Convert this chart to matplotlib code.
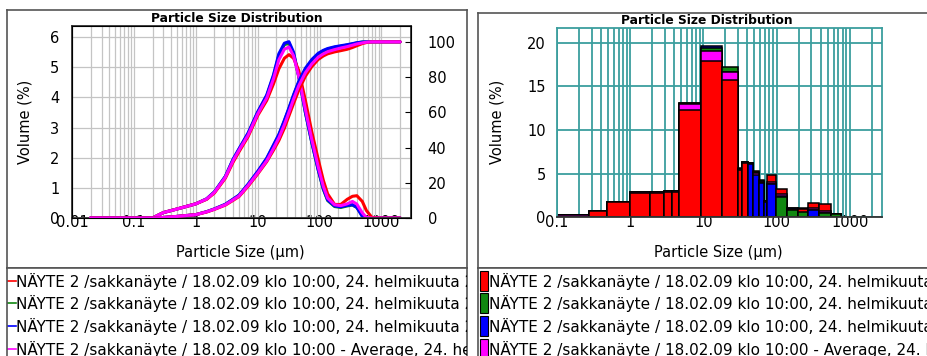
import matplotlib
matplotlib.use('Agg')
import matplotlib.pyplot as plt
from matplotlib.patches import Rectangle
from matplotlib.ticker import FixedLocator, FixedFormatter, NullFormatter

W, H = 927, 356

# particle sizes (um) for the continuous curves
sizes = [0.02, 0.1, 0.2, 0.25, 0.3, 0.5, 1, 1.5, 2, 3, 4, 5, 7, 10, 14, 18, 22, 27, 32,
         38, 46, 59, 75, 95, 115, 135, 175, 220, 280, 340, 400, 490, 570, 700, 1000, 2000]

# volume frequency (%) per run
freq_red = [0, 0, 0, 0.1, 0.18, 0.3, 0.47, 0.62, 0.83, 1.32, 1.85, 2.2, 2.7, 3.4, 3.9, 4.45,
            4.95, 5.3, 5.42, 5.3, 4.9, 3.9, 2.85, 1.95, 1.25, 0.8, 0.45, 0.45, 0.62, 0.72,
            0.74, 0.55, 0.25, 0.02, 0, 0]
freq_green = [0, 0, 0, 0.1, 0.18, 0.3, 0.47, 0.63, 0.86, 1.37, 1.93, 2.28, 2.8, 3.5, 4.05,
              4.7, 5.4, 5.75, 5.8, 5.45, 4.7, 3.5, 2.5, 1.6, 0.95, 0.58, 0.38, 0.35, 0.4,
              0.43, 0.35, 0.08, 0, 0, 0, 0]
freq_blue = [0, 0, 0, 0.1, 0.18, 0.3, 0.47, 0.64, 0.87, 1.38, 1.95, 2.3, 2.82, 3.52, 4.08,
             4.75, 5.45, 5.8, 5.85, 5.5, 4.7, 3.5, 2.5, 1.6, 0.97, 0.6, 0.4, 0.37, 0.42,
             0.44, 0.35, 0.05, 0, 0, 0, 0]
freq_avg = [0, 0, 0, 0.1, 0.18, 0.3, 0.47, 0.63, 0.85, 1.35, 1.9, 2.25, 2.75, 3.45, 3.98,
            4.62, 5.25, 5.6, 5.67, 5.38, 4.7, 3.6, 2.6, 1.7, 1.05, 0.66, 0.44, 0.41, 0.47,
            0.55, 0.46, 0.17, 0.02, 0, 0, 0]

# cumulative volume (%) per run
cum_red = [0, 0, 0, 0.1, 0.3, 0.9, 1.9, 3.4, 4.9, 7.3, 10.0, 12.2, 18.0, 25.0, 32.0, 38.5,
           44.0, 51.0, 58.0, 65.0, 72.5, 80.5, 86.0, 90.0, 92.0, 93.2, 94.3, 95.0, 95.8,
           96.8, 97.8, 99.0, 99.6, 100, 100, 100]
cum_green = [0, 0, 0, 0.1, 0.3, 0.9, 1.9, 3.6, 5.1, 7.7, 10.6, 12.9, 19.0, 26.0, 33.5, 41.0,
             47.0, 55.0, 62.0, 69.5, 77.0, 84.5, 89.5, 93.0, 94.8, 95.9, 96.9, 97.5, 98.2,
             98.8, 99.4, 99.9, 100, 100, 100, 100]
cum_blue = [0, 0, 0, 0.1, 0.3, 0.9, 1.9, 3.6, 5.2, 7.8, 10.7, 13.0, 19.2, 26.5, 34.0, 41.5,
            47.5, 55.5, 62.5, 70.0, 77.5, 85.0, 90.0, 93.5, 95.2, 96.2, 97.2, 97.8, 98.4,
            99.0, 99.5, 99.9, 100, 100, 100, 100]
cum_avg = [0, 0, 0, 0.1, 0.3, 0.9, 1.9, 3.5, 5.0, 7.5, 10.3, 12.5, 18.5, 25.5, 32.5, 39.5,
           45.5, 53.0, 60.0, 67.5, 75.0, 82.5, 87.5, 91.3, 93.2, 94.4, 95.6, 96.5, 97.3,
           98.1, 98.8, 99.4, 99.8, 100, 100, 100]

# histogram classes (um) and volume (%) per run
bin_edges = [0.1, 0.28, 0.48, 1, 1.9, 2.9, 3.8, 4.7, 9.4, 17.8, 30, 34, 41, 48, 57.5, 68,
             73, 97, 137, 194, 271, 383, 547, 756]
hist_red = [0.3, 0.7, 1.75, 2.8, 2.8, 2.95, 2.95, 12.3, 17.9, 15.7, 5.4, 6.25, 6.25, 5.3,
            4.1, 1.85, 4.85, 3.24, 1.0, 0.9, 1.67, 1.52, 0.35]
hist_green = [0.3, 0.72, 1.78, 2.86, 2.86, 3.05, 3.05, 13.05, 19.4, 17.2, 5.55, 6.3, 6.2,
              5.2, 4.3, 1.85, 3.8, 2.37, 0.84, 0.65, 0.86, 0.45, 0.35]
hist_blue = [0.32, 0.72, 1.78, 2.86, 2.86, 3.05, 3.05, 13.15, 19.6, 16.7, 5.6, 6.3, 6.15,
             4.85, 3.9, 1.8, 3.8, 2.45, 1.05, 1.08, 0.84, 0.5, 0.38]
hist_avg = [0.3, 0.71, 1.78, 2.86, 2.86, 3.05, 3.05, 12.95, 19.0, 16.6, 5.5, 6.3, 6.22,
            5.1, 4.2, 1.85, 4.1, 2.7, 1.12, 1.0, 1.05, 0.72, 0.36]

labels = ['NÄYTE 2 /sakkanäyte / 18.02.09 klo 10:00, 24. helmikuuta 2009 10:00:12',
          'NÄYTE 2 /sakkanäyte / 18.02.09 klo 10:00, 24. helmikuuta 2009 10:01:05',
          'NÄYTE 2 /sakkanäyte / 18.02.09 klo 10:00, 24. helmikuuta 2009 10:01:58',
          'NÄYTE 2 /sakkanäyte / 18.02.09 klo 10:00 - Average, 24. helmikuuta 2009 10:01:05']
colors = ['#ff0000', '#118811', '#0000ff', '#ff00ff']

size_ticks = [0.01, 0.1, 1, 10, 100, 1000]
size_ticklabels = ['0.01', '0.1', '1', '10', '100', '1000']
log_minor = [m * 10.0 ** e for e in range(-2, 4) for m in range(1, 10)]
teal = '#3c9e9e'
frame = '#555555'
fs = 10.5


def frac(x0, y0, x1, y1):
    # pixel box (top-left origin) -> figure fraction rect
    return [x0 / W, 1 - y1 / H, (x1 - x0) / W, (y1 - y0) / H]


def blank(rect, z=-1):
    a = fig.add_axes(rect, zorder=z)
    a.set_xticks([])
    a.set_yticks([])
    for sp in a.spines.values():
        sp.set_color(frame)
        sp.set_linewidth(1.2)
    return a


fig = plt.figure(figsize=(W / 100, H / 100), dpi=100)

# panel frames
blank(frac(7, 10, 467, 268))
blank(frac(478, 13, 940, 268))

# ---------- left: frequency + cumulative curves ----------
ax = fig.add_axes(frac(72, 26, 411, 218))
ax.set_xscale('log')
ax.set_xlim(0.01, 3000)
ax.set_ylim(0, 6.37)
ax.xaxis.set_major_locator(FixedLocator(size_ticks))
ax.xaxis.set_major_formatter(FixedFormatter(size_ticklabels))
ax.xaxis.set_minor_locator(FixedLocator(log_minor))
ax.xaxis.set_minor_formatter(NullFormatter())
ax.set_yticks(range(0, 7))
ax.grid(which='both', axis='x', color='#c4c4c4', lw=0.9)
ax.grid(axis='y', color='#c4c4c4', lw=0.9)
ax.tick_params(which='both', length=0, labelsize=fs)
ax.tick_params(axis='x', pad=-2)
ax.tick_params(axis='y', pad=9)
for sp in ax.spines.values():
    sp.set_color('#333333')
    sp.set_linewidth(1.3)

ax2 = ax.twinx()
ax2.set_ylim(0, 109)
ax2.set_yticks(range(0, 101, 20))
ax2.tick_params(direction='in', length=4, labelsize=fs, pad=12)

for fr, cu, c in [(freq_green, cum_green, colors[1]), (freq_blue, cum_blue, colors[2]),
                  (freq_red, cum_red, colors[0]), (freq_avg, cum_avg, colors[3])]:
    ax.plot(sizes, fr, color=c, lw=2.2, solid_capstyle='round')
    ax2.plot(sizes, cu, color=c, lw=2.2, solid_capstyle='round')

fig.text(237 / W, 1 - 18 / H, 'Particle Size Distribution', fontsize=8.8,
         weight='bold', ha='center', va='center')
fig.text(240 / W, 1 - 253 / H, 'Particle Size (µm)', fontsize=fs, ha='center', va='center')
fig.text(25 / W, 1 - 122 / H, 'Volume (%)', fontsize=fs, rotation=90,
         ha='center', va='center')

# ---------- right: histogram ----------
ax3 = fig.add_axes(frac(556.7, 28.3, 882, 217.3))
ax3.set_xscale('log')
ax3.set_xlim(0.1, 2750)
ax3.set_ylim(0, 21.65)
ax3.xaxis.set_major_locator(FixedLocator(size_ticks[1:]))
ax3.xaxis.set_major_formatter(FixedFormatter(size_ticklabels[1:]))
ax3.xaxis.set_minor_locator(FixedLocator(log_minor))
ax3.xaxis.set_minor_formatter(NullFormatter())
ax3.set_yticks(range(0, 21, 5))
ax3.set_axisbelow(True)
ax3.grid(which='both', axis='x', color=teal, lw=1.3)
ax3.grid(axis='y', color=teal, lw=1.3)
ax3.tick_params(which='both', length=0, labelsize=fs)
ax3.tick_params(axis='x', pad=-2)
ax3.tick_params(axis='y', pad=8)
for name, sp in ax3.spines.items():
    sp.set_color('#333333' if name == 'bottom' else teal)
    sp.set_linewidth(1.3)

runs = [hist_red, hist_green, hist_blue, hist_avg]
for i in range(len(bin_edges) - 1):
    left, right = bin_edges[i], bin_edges[i + 1]
    vals = [r[i] for r in runs]
    # tallest first so every run stays visible on top of the next
    for k in sorted(range(4), key=lambda k: -vals[k]):
        ax3.bar(left, vals[k], width=right - left, align='edge', color=colors[k],
                edgecolor='black', lw=1.1)

fig.text(707 / W, 1 - 20 / H, 'Particle Size Distribution', fontsize=8.8,
         weight='bold', ha='center', va='center')
fig.text(718 / W, 1 - 253 / H, 'Particle Size (µm)', fontsize=fs, ha='center', va='center')
fig.text(497 / W, 1 - 122 / H, 'Volume (%)', fontsize=fs, rotation=90,
         ha='center', va='center')

# ---------- legends ----------
rows = [281, 303, 326, 349]
legend_fs = 11

axL = blank(frac(7, 268, 467, 364), z=1)
axL.set_xlim(0, 460)
axL.set_ylim(96, 0)
for y, lab, c in zip(rows, labels, colors):
    axL.plot([0, 9], [y - 268, y - 268], color=c, lw=1.2, clip_on=True)
    axL.text(9.5, y - 268, lab, fontsize=legend_fs, va='center', ha='left', clip_on=True)

axR = blank(frac(478, 268, 940, 364), z=1)
axR.set_xlim(0, 462)
axR.set_ylim(96, 0)
for y, lab, c in zip(rows, labels, colors):
    axR.add_patch(Rectangle((2, y - 268 - 10), 8, 20, facecolor=c, edgecolor='black', lw=0.8))
    axR.text(11, y - 268, lab, fontsize=legend_fs, va='center', ha='left', clip_on=True)

fig.savefig('out.png', dpi=100)
